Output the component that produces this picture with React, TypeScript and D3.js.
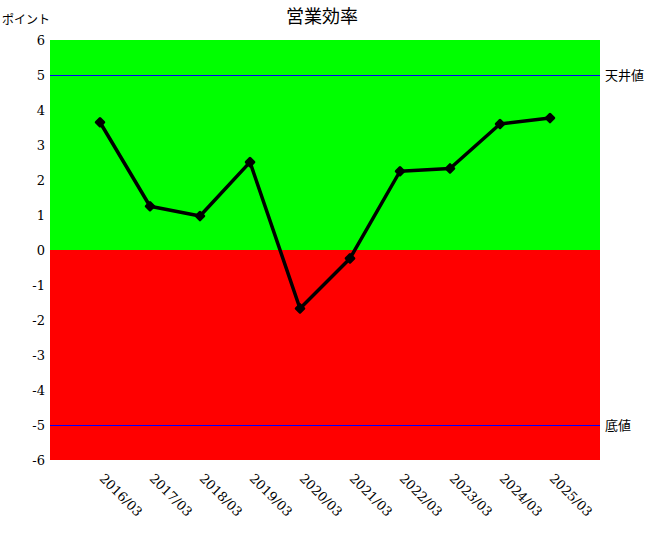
import React, { useEffect, useRef } from 'react';
import * as d3 from 'd3';

const categories = ['2016/03', '2017/03', '2018/03', '2019/03', '2020/03', '2021/03', '2022/03', '2023/03', '2024/03', '2025/03'];
const values = [3.65, 1.25, 0.97, 2.51, -1.67, -0.24, 2.25, 2.33, 3.6, 3.77];
const yTicks = [6, 5, 4, 3, 2, 1, 0, -1, -2, -3, -4, -5, -6];
const refLines = [
  { value: 5, label: '天井値' },
  { value: -5, label: '底値' },
];

const App: React.FC = () => {
  const ref = useRef<SVGSVGElement | null>(null);

  useEffect(() => {
    const width = 650;
    const height = 540;
    const margin = { top: 40, right: 50, bottom: 80, left: 50 };
    const jp = 'Noto Sans CJK JP';
    const serif = 'DejaVu Serif';

    const svg = d3.select(ref.current)
      .attr('width', width)
      .attr('height', height)
      .style('display', 'block')
      .style('position', 'absolute')
      .style('left', '0px')
      .style('top', '0px')
      .style('background', '#ffffff');
    svg.selectAll('*').remove();

    const x = d3.scalePoint<string>()
      .domain(categories)
      .range([margin.left, width - margin.right])
      .padding(1);

    const y = d3.scaleLinear()
      .domain([-6, 6])
      .range([height - margin.bottom, margin.top]);

    // background zones
    svg.append('rect')
      .attr('x', margin.left)
      .attr('y', y(6))
      .attr('width', width - margin.left - margin.right)
      .attr('height', y(0) - y(6))
      .attr('fill', '#00ff00');
    svg.append('rect')
      .attr('x', margin.left)
      .attr('y', y(0))
      .attr('width', width - margin.left - margin.right)
      .attr('height', y(-6) - y(0))
      .attr('fill', '#ff0000');

    // reference lines
    refLines.forEach(r => {
      svg.append('line')
        .attr('x1', margin.left)
        .attr('x2', width - margin.right)
        .attr('y1', Math.round(y(r.value)) + 0.5)
        .attr('y2', Math.round(y(r.value)) + 0.5)
        .attr('stroke', '#0000ff')
        .attr('stroke-width', 1);
      svg.append('text')
        .attr('x', width - margin.right + 5)
        .attr('y', y(r.value))
        .attr('dy', '0.35em')
        .attr('font-family', jp)
        .attr('font-size', 13)
        .attr('fill', '#000')
        .text(r.label);
    });

    // y tick labels
    svg.append('g')
      .selectAll('text')
      .data(yTicks)
      .join('text')
        .attr('x', margin.left - 5)
        .attr('y', d => y(d))
        .attr('dy', '0.35em')
        .attr('text-anchor', 'end')
        .attr('font-family', serif)
        .attr('font-size', 13)
        .text(d => d);

    // x tick labels
    svg.append('g')
      .selectAll('text')
      .data(categories)
      .join('text')
        .attr('transform', d => `translate(${x(d)! + 2}, ${height - margin.bottom + 16}) rotate(45)`)
        .attr('dy', '0.35em')
        .attr('font-family', serif)
        .attr('font-size', 13)
        .text(d => d);

    // line
    const line = d3.line<number>()
      .x((_, i) => x(categories[i])!)
      .y(d => y(d));

    svg.append('path')
      .datum(values)
      .attr('d', line)
      .attr('fill', 'none')
      .attr('stroke', '#000')
      .attr('stroke-width', 3.5)
      .attr('stroke-linejoin', 'round');

    svg.append('g')
      .selectAll('path')
      .data(values)
      .join('path')
        .attr('d', d3.symbol(d3.symbolSquare, 28)())
        .attr('transform', (d, i) => `translate(${x(categories[i])}, ${y(d)}) rotate(45)`)
        .attr('fill', '#000')
        .attr('stroke', '#000')
        .attr('stroke-width', 3)
        .attr('stroke-linejoin', 'round');

    // title
    svg.append('text')
      .attr('x', 322)
      .attr('y', 17)
      .attr('dy', '0.35em')
      .attr('text-anchor', 'middle')
      .attr('font-family', jp)
      .attr('font-size', 18)
      .text('営業効率');

    // unit label
    svg.append('text')
      .attr('x', 2)
      .attr('y', 20)
      .attr('dy', '0.35em')
      .attr('font-family', jp)
      .attr('font-size', 12)
      .text('ポイント');
  }, []);

  return <svg ref={ref}></svg>;
};

export default App;
